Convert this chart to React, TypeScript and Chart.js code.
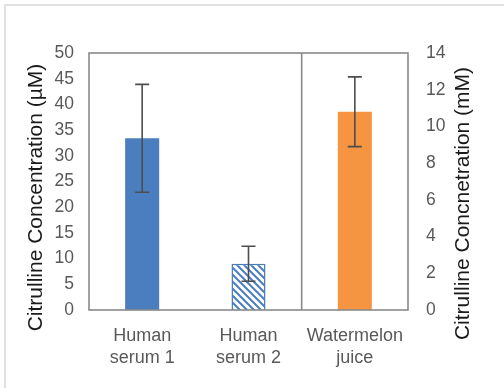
import React, { useEffect, useRef } from "react";
import { Chart, registerables } from "chart.js";

Chart.register(...registerables);

const categories: string[][] = [
  ["Human", "serum 1"],
  ["Human", "serum 2"],
  ["Watermelon", "juice"],
];
const serumValues: (number | null)[] = [33.4, 9.0, null];
const serumErrors: (number | null)[] = [10.5, 3.4, null];
const juiceValues: (number | null)[] = [null, null, 10.8];
const juiceErrors: (number | null)[] = [null, null, 1.9];
const leftTitle = "Citrulline Concentration (µM)";
const rightTitle = "Citrulline Concnetration (mM)";

const BLUE = "#4a7ebf";
const ORANGE = "#f59441";
const FONT = "'Liberation Sans', Arial, sans-serif";
const TICK_COLOR = "#595959";

export default function App() {
  const ref = useRef<HTMLCanvasElement | null>(null);

  useEffect(() => {
    document.body.style.margin = "0";
    const canvas = ref.current;
    if (!canvas) return;

    const pc = document.createElement("canvas");
    const T = 7;
    pc.width = T;
    pc.height = T;
    const p = pc.getContext("2d")!;
    p.fillStyle = "#ffffff";
    p.fillRect(0, 0, T, T);
    p.strokeStyle = BLUE;
    p.lineWidth = 2;
    p.beginPath();
    p.moveTo(-T, 0);
    p.lineTo(T, 2 * T);
    p.moveTo(0, 0);
    p.lineTo(T, T);
    p.moveTo(0, -T);
    p.lineTo(2 * T, T);
    p.stroke();
    const pattern = canvas.getContext("2d")!.createPattern(pc, "repeat")!;

    const errorsByDataset = [serumErrors, juiceErrors];

    const overlay = {
      id: "overlay",
      afterDatasetsDraw(chart: any) {
        const ctx = chart.ctx;
        const { left, right, top, bottom } = chart.chartArea;
        // error bars
        chart.data.datasets.forEach((ds: any, i: number) => {
          const meta = chart.getDatasetMeta(i);
          const ys = chart.scales[ds.yAxisID];
          const errs = errorsByDataset[i];
          meta.data.forEach((el: any, j: number) => {
            const v = ds.data[j];
            const e = errs[j];
            if (v == null || e == null) return;
            const x = el.x;
            const yT = ys.getPixelForValue(v + e);
            const yB = ys.getPixelForValue(v - e);
            ctx.save();
            ctx.strokeStyle = "#4d4d4d";
            ctx.lineWidth = 1.6;
            ctx.beginPath();
            ctx.moveTo(x, yT);
            ctx.lineTo(x, yB);
            ctx.moveTo(x - 7, yT);
            ctx.lineTo(x + 7, yT);
            ctx.moveTo(x - 7, yB);
            ctx.lineTo(x + 7, yB);
            ctx.stroke();
            ctx.restore();
          });
        });
        // plot box and divider
        const xs = chart.scales.x;
        const div = (xs.getPixelForValue(1) + xs.getPixelForValue(2)) / 2;
        ctx.save();
        ctx.strokeStyle = "#8a8a8a";
        ctx.lineWidth = 1.6;
        ctx.strokeRect(left, top, right - left, bottom - top);
        ctx.beginPath();
        ctx.moveTo(div, top);
        ctx.lineTo(div, bottom);
        ctx.stroke();
        // axis titles
        ctx.fillStyle = "#1a1a1a";
        ctx.font = `21px ${FONT}`;
        ctx.textAlign = "center";
        ctx.textBaseline = "middle";
        const midY = (top + bottom) / 2;
        ctx.save();
        ctx.translate(left - 53, midY + 16);
        ctx.rotate(-Math.PI / 2);
        ctx.fillText(leftTitle, 0, 0);
        ctx.restore();
        ctx.save();
        ctx.translate(right + 55, midY + 22);
        ctx.rotate(-Math.PI / 2);
        ctx.fillText(rightTitle, 0, 0);
        ctx.restore();
        ctx.restore();
      },
    };

    const chart = new Chart(canvas, {
      type: "bar",
      data: {
        labels: categories,
        datasets: [
          {
            data: serumValues,
            yAxisID: "y",
            backgroundColor: [BLUE, pattern, BLUE],
            borderColor: BLUE,
            borderWidth: [0, 1.5, 0],
            grouped: false,
            barPercentage: 0.32,
            categoryPercentage: 1,
          } as any,
          {
            data: juiceValues,
            yAxisID: "y1",
            backgroundColor: ORANGE,
            borderWidth: 0,
            grouped: false,
            barPercentage: 0.32,
            categoryPercentage: 1,
          } as any,
        ],
      },
      plugins: [overlay],
      options: {
        animation: false,
        responsive: false,
        layout: { padding: { top: 53, left: 0, right: 0, bottom: 0 } },
        plugins: { legend: { display: false }, tooltip: { enabled: false } },
        scales: {
          x: {
            grid: { display: false, drawTicks: false },
            border: { display: false },
            ticks: {
              color: TICK_COLOR,
              font: { family: FONT, size: 18, lineHeight: 1.25 },
              padding: 14.5,
              maxRotation: 0,
              autoSkip: false,
            },
            afterFit: (s: any) => {
              s.height = 78;
            },
          },
          y: {
            position: "left",
            min: 0,
            max: 50,
            grid: { display: false, drawTicks: false },
            border: { display: false },
            ticks: {
              stepSize: 5,
              color: TICK_COLOR,
              font: { family: FONT, size: 17.5 },
              padding: 15,
            },
            afterFit: (s: any) => {
              s.width = 89;
            },
          },
          y1: {
            position: "right",
            min: 0,
            max: 14,
            grid: { display: false, drawTicks: false },
            border: { display: false },
            ticks: {
              stepSize: 2,
              color: TICK_COLOR,
              font: { family: FONT, size: 17.5 },
              padding: 18,
            },
            afterFit: (s: any) => {
              s.width = 96;
            },
          },
        },
      } as any,
    });
    return () => chart.destroy();
  }, []);

  return (
    <div style={{ position: "relative", width: 504, height: 388, overflow: "hidden", background: "#fff" }}>
      <div
        style={{
          position: "absolute",
          left: 4,
          top: 4,
          width: 520,
          height: 400,
          borderLeft: "2px solid #e0e0e0",
          borderTop: "2px solid #e0e0e0",
        }}
      />
      <canvas ref={ref} width={504} height={388} style={{ position: "absolute", left: 0, top: 0, width: 504, height: 388 }} />
    </div>
  );
}
